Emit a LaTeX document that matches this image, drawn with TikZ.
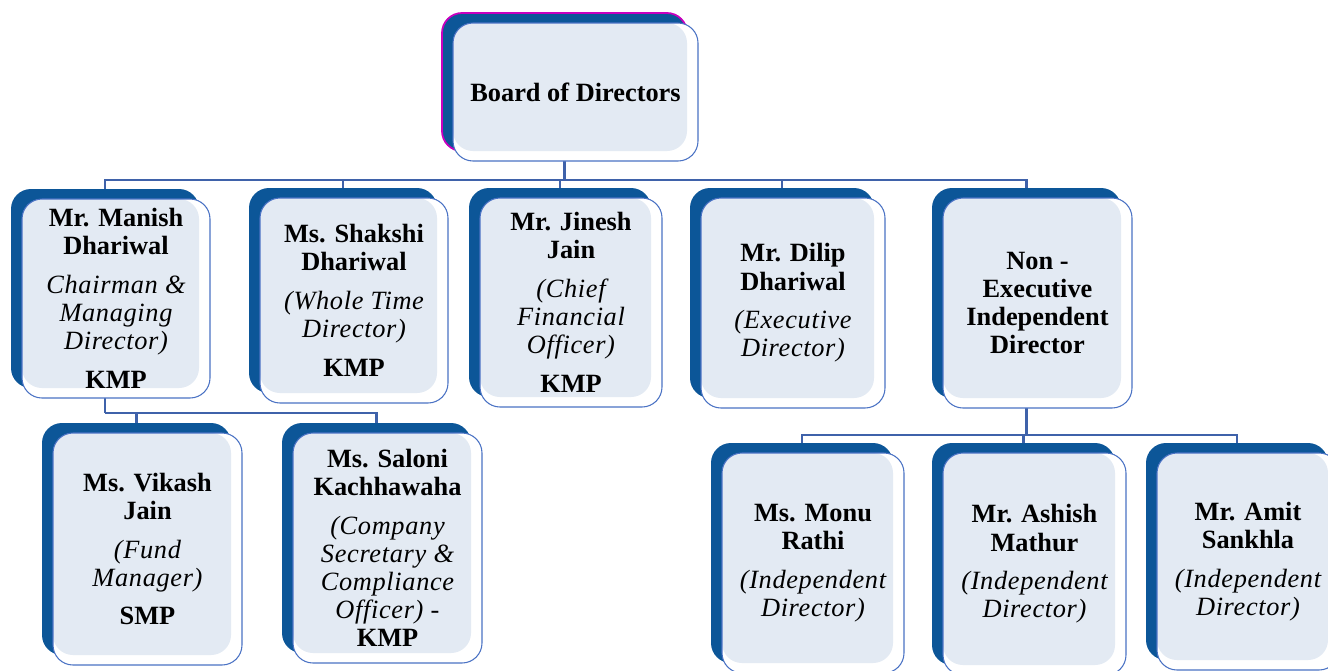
\documentclass[tikz,border=0pt]{standalone}
\usepackage{fontspec}
\setmainfont{Liberation Serif}
\newfontfamily\rolefont[LetterSpace=2.5]{Liberation Serif}
\usetikzlibrary{backgrounds}
\definecolor{orgdark}{RGB}{12,86,152}
\definecolor{orgface}{RGB}{227,234,243}
\definecolor{orgline}{RGB}{74,114,196}
\definecolor{orglink}{RGB}{63,98,170}
\definecolor{orgpink}{RGB}{200,0,190}
\newcommand{\ORGpx}{0.02cm}
\tikzset{
  cardback/.style={rectangle, rounded corners=0.4cm, fill=orgdark, inner sep=0pt},
  cardfront/.style={rectangle, rounded corners=0.4cm, draw=orgline, line width=0.6pt,
    fill=white, inner sep=2pt, align=center,
    font=\fontsize{15}{16}\selectfont\rmfamily\bfseries,
    path picture={\fill[orgface, rounded corners=0.4cm]
      (path picture bounding box.north west) rectangle
      ([xshift=-0.22cm, yshift=0.2cm]path picture bounding box.south east);}},
  link/.style={draw=orglink, line width=1.2pt},
}
\newcommand{\ORGRole}[1]{{\rolefont\mdseries\itshape #1}}
\newcommand{\ORGCard}[7][]{
  \node[cardback, #1, minimum width=#5*\ORGpx, minimum height=#6*\ORGpx] (#2) at (#3-11,#4-10) {};
  \node[cardfront, minimum width=#5*\ORGpx, minimum height=#6*\ORGpx] (#2-f) at (#3,#4) {#7};
}

\begin{document}
\begin{tikzpicture}[x=\ORGpx, y=-\ORGpx]
\useasboundingbox (0,0) rectangle (1328,670);
\clip (0,0) rectangle (1328,670);

\ORGCard[draw=orgpink, line width=1pt]{board}{575.5}{92}{245}{138}{Board of Directors}

\ORGCard{manish}{116}{298.5}{188}{199}{Mr. Manish\\ Dhariwal\\[6pt]
  \ORGRole{Chairman \&}\\ \ORGRole{Managing}\\ \ORGRole{Director)}\\[6pt] KMP}
\ORGCard{shakshi}{354}{300.5}{188}{205}{Ms. Shakshi\\ Dhariwal\\[6pt]
  \ORGRole{(Whole Time}\\ \ORGRole{Director)}\\[6pt] KMP}
\ORGCard{jinesh}{571}{302.5}{182}{209}{Mr. Jinesh\\ Jain\\[6pt]
  \ORGRole{(Chief}\\ \ORGRole{Financial}\\ \ORGRole{Officer)}\\[6pt] KMP}
\ORGCard{dilip}{793}{303}{184}{210}{Mr. Dilip\\ Dhariwal\\[6pt]
  \ORGRole{(Executive}\\ \ORGRole{Director)}}
\ORGCard{nonexec}{1037.5}{303}{189}{210}{Non -\\ Executive\\ Independent\\ Director}

\ORGCard{vikash}{147.5}{549}{189}{232}{Ms. Vikash\\ Jain\\[6pt]
  \ORGRole{(Fund}\\ \ORGRole{Manager)}\\[6pt] SMP}
\ORGCard{saloni}{387.5}{548}{189}{230}{Ms. Saloni\\ Kachhawaha\\[6pt]
  \ORGRole{(Company}\\ \ORGRole{Secretary \&}\\ \ORGRole{Compliance}\\ \ORGRole{Officer) -}\\ KMP}

\ORGCard{monu}{813}{563}{182}{220}{Ms. Monu\\ Rathi\\[6pt]
  \ORGRole{(Independent}\\ \ORGRole{Director)}}
\ORGCard{ashish}{1034.5}{564}{183}{222}{Mr. Ashish\\ Mathur\\[6pt]
  \ORGRole{(Independent}\\ \ORGRole{Director)}}
\ORGCard{amit}{1248}{561.5}{182}{217}{Mr. Amit\\ Sankhla\\[6pt]
  \ORGRole{(Independent}\\ \ORGRole{Director)}}

\coordinate (busTop) at (565,180);
\coordinate (busLeft) at (105,413);
\coordinate (busRight) at (1026,435);
\begin{scope}[on background layer]
\draw[link] (board) -- (board |- busTop);
\foreach \n in {manish,shakshi,jinesh,dilip,nonexec}
  \draw[link] (board |- busTop) -| (\n);
\draw[link] (manish) -- (manish |- busLeft);
\foreach \n in {vikash,saloni}
  \draw[link] (manish |- busLeft) -| (\n);
\draw[link] (nonexec) -- (nonexec |- busRight);
\foreach \n in {monu,ashish,amit}
  \draw[link] (nonexec |- busRight) -| (\n);
\end{scope}
\end{tikzpicture}
\end{document}
